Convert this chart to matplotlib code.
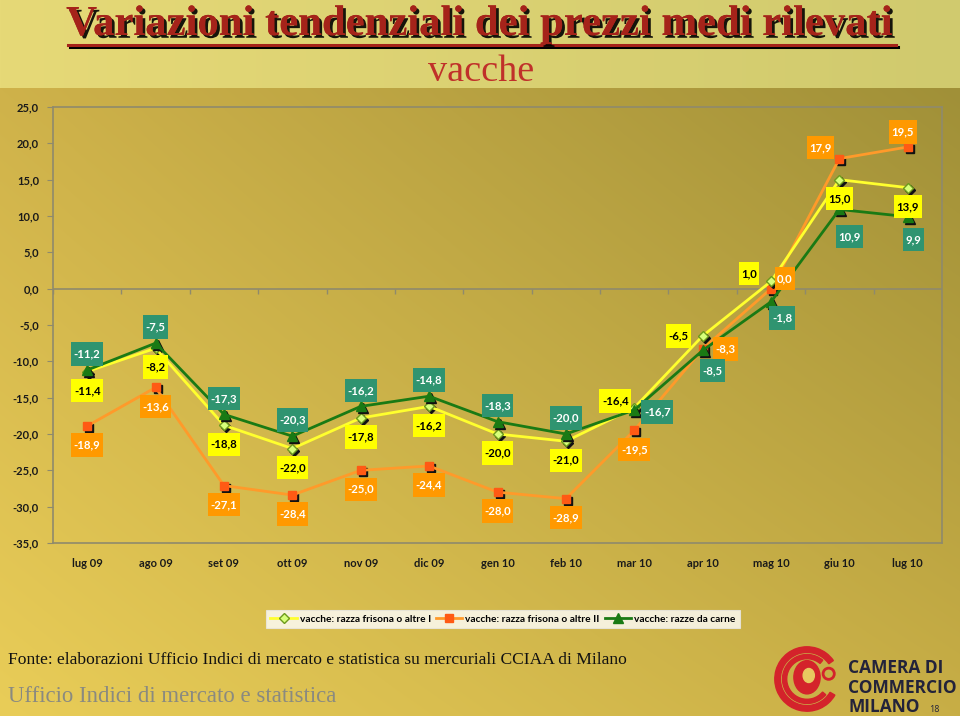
import numpy as np
import matplotlib
matplotlib.use('Agg')
import matplotlib.pyplot as plt
from matplotlib import patheffects as pe
from matplotlib.transforms import offset_copy
from matplotlib.lines import Line2D
from matplotlib.patches import Wedge, Circle, Ellipse
from matplotlib.path import Path

# ---------------- data ----------------
months = ['lug 09', 'ago 09', 'set 09', 'ott 09', 'nov 09', 'dic 09', 'gen 10',
          'feb 10', 'mar 10', 'apr 10', 'mag 10', 'giu 10', 'lug 10']
frisona_1 = [-11.4, -8.2, -18.8, -22.0, -17.8, -16.2, -20.0, -21.0, -16.4, -6.5, 1.0, 15.0, 13.9]
frisona_2 = [-18.9, -13.6, -27.1, -28.4, -25.0, -24.4, -28.0, -28.9, -19.5, -8.3, 0.0, 17.9, 19.5]
carne = [-11.2, -7.5, -17.3, -20.3, -16.2, -14.8, -18.3, -20.0, -16.7, -8.5, -1.8, 10.9, 9.9]
series_names = ['vacche: razza frisona o altre I',
                'vacche: razza frisona o altre II',
                'vacche: razze da carne']
yticks = [25, 20, 15, 10, 5, 0, -5, -10, -15, -20, -25, -30, -35]

title = 'Variazioni tendenziali dei prezzi medi rilevati'
subtitle = 'vacche'
source = 'Fonte: elaborazioni Ufficio Indici di mercato e statistica su mercuriali CCIAA di Milano'
office = 'Ufficio Indici di mercato e statistica'

# label offsets (pixels, x right / y up) per point
off_1 = [(0, -19)] * 8 + [(-19, 7), (-24, 0), (-22, 8), (0, -19), (0, -19)]
off_2 = [(0, -19)] * 9 + [(23, 0), (14, 10), (-19, 11), (-5, 15)]
off_c = [(0, 16)] * 8 + [(23, -2), (10, -20), (11, -16), (10, -27), (6, -23)]

W, H = 960, 716
fig = plt.figure(figsize=(W / 100, H / 100), dpi=100)

# ---------------- background ----------------
bg = fig.add_axes([0, 0, 1, 1], zorder=-10)
bg.set_axis_off()
yy, xx = np.mgrid[0:H, 0:W]
u = xx / (W - 1)
img = np.zeros((H, W, 3))
TL = np.array([207, 178, 74]); TR = np.array([160, 144, 56])
BL = np.array([233, 205, 88]); BR = np.array([200, 174, 70])
v = np.clip((yy - 88) / (H - 88), 0, 1)
for c in range(3):
    top = TL[c] + (TR[c] - TL[c]) * u
    bot = BL[c] + (BR[c] - BL[c]) * u
    img[..., c] = top + (bot - top) * v
band = yy < 88
bandL = np.array([230, 217, 119]); bandR = np.array([208, 202, 110])
for c in range(3):
    img[..., c] = np.where(band, bandL[c] + (bandR[c] - bandL[c]) * u, img[..., c])
bg.imshow(img / 255.0, extent=[0, W, H, 0], aspect='auto', interpolation='bilinear')
bg.set_xlim(0, W); bg.set_ylim(H, 0)

# ---------------- main chart ----------------
ax = fig.add_axes([53 / W, 1 - 543 / H, 889 / W, 436 / H])
ax.patch.set_alpha(0)
x = np.arange(len(months))
ax.set_xlim(-0.5, len(months) - 0.5)
ax.set_ylim(-35, 25)

border = '#8f8a6c'
for s in ax.spines.values():
    s.set_color(border)
    s.set_linewidth(1.2)

ax.axhline(0, color=border, lw=1.2, zorder=1)
ax.vlines(np.arange(-0.5, len(months), 1.0), -0.75, 0, color=border, lw=1.0, zorder=1)

shadow = offset_copy(ax.transData, fig=fig, x=2, y=-2, units='dots')


def tallbox(x0, y0, width, height, mutation_size):
    px = 0.22 * mutation_size
    py = 0.55 * mutation_size
    x0, y0 = x0 - px, y0 - py
    x1, y1 = x0 + width + 2 * px, y0 + height + 2 * py
    return Path([(x0, y0), (x1, y0), (x1, y1), (x0, y1), (x0, y0)], closed=True)


styles = [
    dict(vals=frisona_1, color='#ffff2e', marker='D', mfc='#d7ff7a', mec='#6d9a1c', ms=5, box='#ffff00', tc='black', offs=off_1, z=3),
    dict(vals=frisona_2, color='#ff9a2a', marker='s', mfc='#ff5a14', mec='#ff5a14', ms=5.5, box='#ff9900', tc='white', offs=off_2, z=2),
    dict(vals=carne, color='#1a7a14', marker='^', mfc='#1a7a14', mec='#1a7a14', ms=7, box='#2f9470', tc='white', offs=off_c, z=4),
]

handles = []
for st, name in zip(styles, series_names):
    ax.plot(x, st['vals'], ls='none', marker=st['marker'], ms=st['ms'], color='#111111',
            transform=shadow, zorder=st['z'])
    ln, = ax.plot(x, st['vals'], color=st['color'], lw=2.0, marker=st['marker'], ms=st['ms'],
                  mfc=st['mfc'], mec=st['mec'], zorder=st['z'] + 0.5, label=name)
    handles.append(ln)

for st in styles:
    for xi, val, (dx, dy) in zip(x, st['vals'], st['offs']):
        ax.annotate(f"{val:.1f}".replace('.', ','), xy=(xi, val), xytext=(dx, dy),
                    textcoords='offset pixels', ha='center', va='center',
                    fontsize=8.2, fontfamily='Lato', fontweight='bold', color=st['tc'],
                    bbox=dict(boxstyle=tallbox, fc=st['box'], ec='none'), zorder=10)

ax.set_xticks(x)
ax.set_xticklabels(months, fontfamily='Lato', fontweight='bold', fontsize=8, color='#1a1a1a')
ax.tick_params(axis='x', length=0, pad=11)
ax.set_yticks(yticks)
ax.set_yticklabels([f"{t:.1f}".replace('.', ',') for t in yticks], fontfamily='Lato',
                   fontweight='bold', fontsize=8, color='#1a1a1a')
ax.tick_params(axis='y', length=4, color=border, pad=6)

leg = fig.legend(handles=handles, loc='center', bbox_to_anchor=(503 / W, 1 - 619 / H),
                 ncol=3, frameon=True, fancybox=False,
                 prop=dict(family='Lato', weight='bold', size=7.3),
                 handlelength=2.6, handletextpad=0.3, columnspacing=0.5, borderpad=0.45)
leg.get_frame().set_facecolor('white')
leg.get_frame().set_edgecolor('#e8e8e8')
leg.get_frame().set_linewidth(0.8)

# ---------------- titles / footer ----------------
renderer = fig.canvas.get_renderer()


def fit_text(s, xc, yc, width, size, ha='center', **kw):
    t = fig.text(xc / W, 1 - yc / H, s, ha=ha, va='center', fontsize=size, **kw)
    w = t.get_window_extent(renderer).width
    t.set_fontsize(size * width / w)
    return t


tt = fit_text(title, 481, 25, 825, 30, family='Liberation Serif', weight='bold', color='#a5231a',
              path_effects=[pe.withSimplePatchShadow(offset=(2, -2), shadow_rgbFace='black', alpha=0.9), pe.Normal()])
bb = tt.get_window_extent(renderer)
ul_y = 1 - 45 / H
fig.add_artist(Line2D([bb.x0 / W + 0.002 + 2 / W, bb.x1 / W + 2 / W], [ul_y - 2 / H, ul_y - 2 / H],
                      transform=fig.transFigure, color='black', lw=2.2))
fig.add_artist(Line2D([bb.x0 / W + 0.002, bb.x1 / W], [ul_y, ul_y],
                      transform=fig.transFigure, color='#a5231a', lw=2.2))

fit_text(subtitle, 481, 72, 106, 26, family='Liberation Serif', color='#c0302a')
fit_text(source, 8, 660, 616, 12, ha='left', family='Liberation Serif', color='#111111')
fit_text(office, 8, 696, 329, 15, ha='left', family='Liberation Serif', color='#8a8a80')

# logo
lax = fig.add_axes([772 / W, 1 - 714 / H, 70 / W, 70 / H])
lax.set_xlim(-1, 1); lax.set_ylim(-1, 1); lax.set_aspect('equal'); lax.set_axis_off()
red = '#d4232b'
lax.add_patch(Wedge((0, 0), 0.92, 35, 330, width=0.16, color=red))
lax.add_patch(Wedge((0, 0), 0.70, 50, 320, width=0.12, color=red))
lax.add_patch(Ellipse((0.0, 0.05), 0.75, 0.95, color=red))
lax.add_patch(Ellipse((0.05, 0.1), 0.32, 0.4, color='#e8c860'))
lax.add_patch(Circle((0.62, 0.15), 0.16, fill=False, ec=red, lw=2))

for s, yc in zip(['CAMERA DI', 'COMMERCIO', 'MILANO'], [668, 688, 707]):
    fig.text(848 / W, 1 - yc / H, s, ha='left', va='center', fontsize=12.5,
             family='Open Sans', weight='bold', color='#23233a')
fig.text(934 / W, 1 - 709 / H, '18', ha='center', va='center', fontsize=6.5,
         family='Open Sans', color='#23233a')

fig.savefig('out.png', dpi=100)
